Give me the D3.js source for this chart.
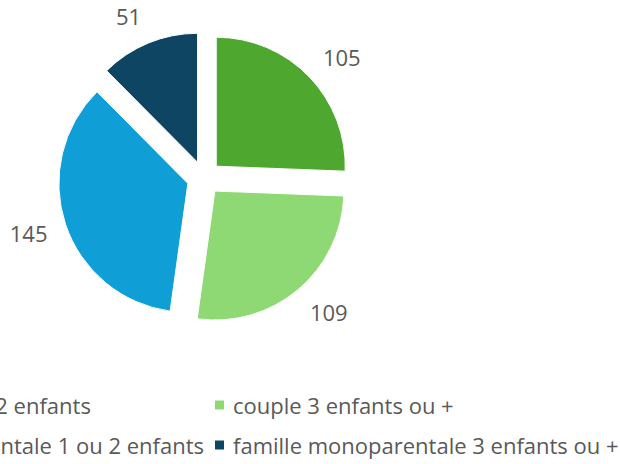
<!DOCTYPE html>
<html>
<head>
<meta charset="utf-8">
<script src="https://cdn.jsdelivr.net/npm/d3@7"></script>
<style>
  html, body { margin: 0; padding: 0; background: #ffffff; }
  svg { display: block; }
  text { font-family: "Open Sans", "Liberation Sans", sans-serif; fill: #595959; }
</style>
</head>
<body>
<svg id="chart" width="620" height="464"></svg>
<script>
// Household types and their counts
const categories = [
  "couple avec 1 ou 2 enfants",
  "couple 3 enfants ou +",
  "famille monoparentale 1 ou 2 enfants",
  "famille monoparentale 3 enfants ou +"
];
const values = [105, 109, 145, 51];
const colors = ["#4EA72E", "#8ED973", "#0F9ED5", "#0E4563"];

// Legend grid: which category sits in which row / column
const legendRows = [[0, 1], [2, 3]];

const svg = d3.select("#chart");

const cx = 204, cy = 178;
const radius = 129;
const explode = 17;
const labelRadius = 165;
const fontSize = 22;

const pie = d3.pie().sort(null).value(d => d)(values);
const arc = d3.arc().innerRadius(0).outerRadius(radius);

const g = svg.append("g").attr("transform", `translate(${cx},${cy})`);

// Exploded slices, each pushed out along its bisector
g.selectAll("path.slice")
  .data(pie)
  .join("path")
  .attr("class", "slice")
  .attr("d", arc)
  .attr("fill", (d, i) => colors[i])
  .attr("stroke", "#ffffff")
  .attr("stroke-width", 1)
  .attr("transform", d => {
    const a = (d.startAngle + d.endAngle) / 2;
    return `translate(${Math.sin(a) * explode},${-Math.cos(a) * explode})`;
  });

// Value labels outside each slice: the label box starts at an anchor on the bisector
// and extends away from the pie (full half-width sideways, weighted half-height vertically)
g.selectAll("text.value")
  .data(pie)
  .join("text")
  .attr("class", "value")
  .attr("font-size", fontSize)
  .attr("text-anchor", "middle")
  .attr("dominant-baseline", "central")
  .text(d => d.data)
  .each(function (d) {
    const a = (d.startAngle + d.endAngle) / 2;
    const w = this.getComputedTextLength();
    const hh = 10;
    const sx = Math.sin(a), sy = -Math.cos(a);
    const x = sx * labelRadius + Math.sign(sx) * w / 2;
    const y = sy * labelRadius + sy * hh;
    d3.select(this).attr("x", x).attr("y", y);
  });

// Legend: two columns, the second starting at a fixed x; the first column ends just before it
const legend = svg.append("g").attr("class", "legend");
const markerSize = 9;
const markerGap = 9;
const colGap = 11;
const col2X = 215;
const rowY = [405, 445];

// measure text widths for column layout
const measure = svg.append("text").attr("font-size", fontSize);
const widths = categories.map(c => measure.text(c).node().getComputedTextLength());
measure.remove();

const col1Width = d3.max(legendRows, r => widths[r[0]]);
const col1X = col2X - colGap - markerSize - markerGap - col1Width;
const colX = [col1X, col2X];

legendRows.forEach((row, ri) => {
  row.forEach((ci, cj) => {
    const x = colX[cj];
    const y = rowY[ri];
    legend.append("rect")
      .attr("x", x)
      .attr("y", y - markerSize / 2)
      .attr("width", markerSize)
      .attr("height", markerSize)
      .attr("fill", colors[ci]);
    legend.append("text")
      .attr("x", x + markerSize + markerGap)
      .attr("y", y)
      .attr("font-size", fontSize)
      .attr("dominant-baseline", "central")
      .text(categories[ci]);
  });
});
</script>
</body>
</html>
